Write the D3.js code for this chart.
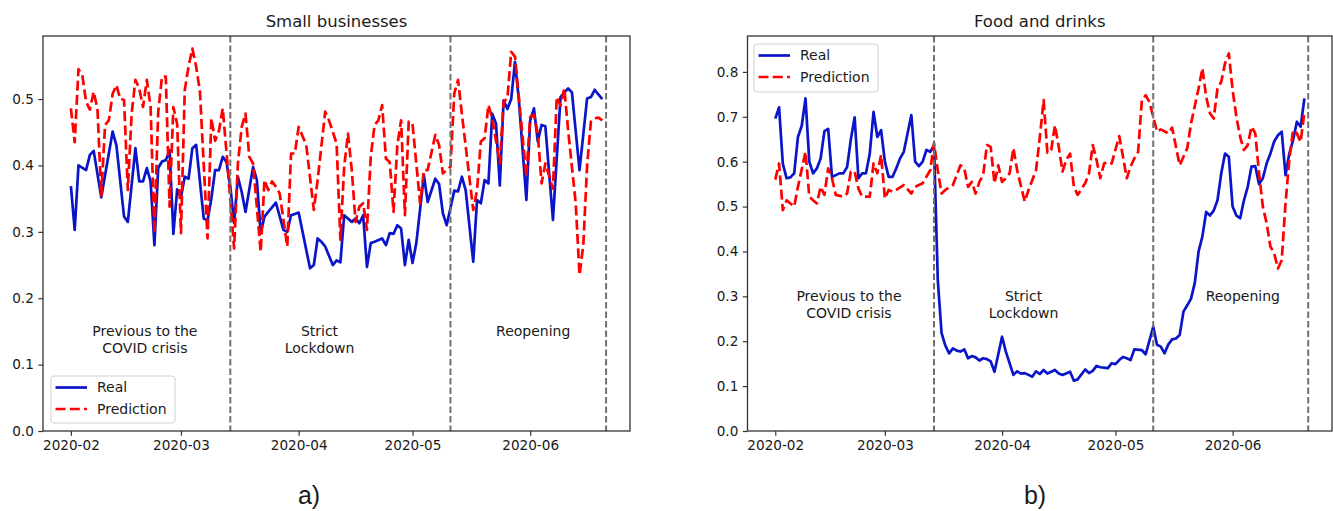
<!DOCTYPE html>
<html>
<head>
<meta charset="utf-8">
<script src="https://cdn.jsdelivr.net/npm/d3@7"></script>
<style>
  html, body { margin: 0; padding: 0; background: #fff; }
  svg { display: block; }
  text { font-family: "DejaVu Sans", sans-serif; fill: #1a1a1a; }
</style>
</head>
<body>
<svg id="chart" width="1333" height="511"></svg>
<script>
// ---- data -------------------------------------------------------------
// Daily series start on this date; each point is [days since start, value].
const startDate = "2020-02-01";

const titles = ["Small businesses", "Food and drinks"];
const panelLetters = ["a)", "b)"];
const seriesNames = ["Real", "Prediction"];
const monthTicks = ["2020-02", "2020-03", "2020-04", "2020-05", "2020-06"];
const phaseBoundaries = ["2020-03-14", "2020-05-11", "2020-06-21"];
const phaseLabels = [["Previous to the", "COVID crisis"], ["Strict", "Lockdown"], ["Reopening"]];
const smallPhaseLabelDays = [19.5, 65.5, 121.8];
const foodPhaseLabelDays = [19.5, 65.7, 123.7];
const smallYTicks = [0.0, 0.1, 0.2, 0.3, 0.4, 0.5];
const foodYTicks = [0.0, 0.1, 0.2, 0.3, 0.4, 0.5, 0.6, 0.7, 0.8];

const smallReal = [
  [0,0.369],[1,0.303],[2,0.40],[4,0.393],[5,0.416],[6,0.422],[8,0.352],[11,0.451],[12,0.43],
  [14,0.323],[15,0.315],[17,0.426],[18,0.376],[19,0.376],[20,0.396],[21,0.376],[22,0.28],
  [23,0.396],[24,0.406],[25,0.408],[26,0.423],[27,0.297],[28,0.364],[29,0.353],[30,0.383],
  [31,0.38],[32,0.426],[33,0.431],[35,0.32],[36,0.317],[37,0.35],[38,0.393],[39,0.393],
  [40,0.413],[41,0.405],[42,0.368],[43,0.313],[44,0.383],[45,0.36],[46,0.33],[48,0.398],
  [49,0.378],[50,0.298],[51,0.323],[52,0.33],[54,0.344],[56,0.303],[57,0.30],[58,0.325],
  [59,0.327],[60,0.329],[63,0.245],[64,0.25],[65,0.29],[66,0.285],[67,0.278],[69,0.25],
  [70,0.257],[71,0.254],[72,0.325],[73,0.32],[74,0.315],[75,0.32],[76,0.313],[77,0.325],
  [78,0.247],[79,0.283],[80,0.285],[82,0.29],[83,0.28],[84,0.298],[85,0.297],[86,0.31],
  [87,0.305],[88,0.25],[89,0.288],[90,0.253],[91,0.283],[93,0.385],[94,0.345],[96,0.38],
  [97,0.372],[98,0.328],[99,0.31],[101,0.362],[102,0.361],[103,0.383],[104,0.363],
  [106,0.255],[107,0.348],[108,0.343],[109,0.378],[110,0.373],[111,0.478],[112,0.463],
  [113,0.37],[114,0.498],[115,0.485],[116,0.50],[117,0.556],[118,0.50],[120,0.348],
  [121,0.468],[122,0.486],[123,0.436],[124,0.461],[125,0.459],[127,0.318],[129,0.503],
  [130,0.51],[131,0.516],[132,0.51],[134,0.393],[136,0.501],[137,0.503],[138,0.514],[140,0.50]
];

const smallPred = [
  [0,0.486],[1,0.435],[2,0.545],[3,0.536],[4,0.496],[5,0.484],[6,0.511],[7,0.485],[8,0.355],
  [9,0.461],[10,0.468],[11,0.508],[12,0.521],[13,0.50],[14,0.499],[15,0.363],[16,0.478],
  [17,0.529],[18,0.516],[19,0.488],[20,0.529],[21,0.488],[22,0.298],[23,0.48],[24,0.534],
  [25,0.534],[26,0.338],[27,0.488],[28,0.462],[29,0.298],[30,0.514],[31,0.549],[32,0.576],
  [33,0.549],[34,0.511],[36,0.29],[37,0.471],[38,0.437],[39,0.452],[40,0.486],[41,0.42],
  [43,0.275],[44,0.403],[45,0.458],[46,0.478],[47,0.413],[48,0.403],[50,0.27],[51,0.378],
  [52,0.363],[53,0.376],[54,0.368],[55,0.358],[57,0.278],[58,0.418],[59,0.418],[60,0.458],
  [62,0.431],[64,0.333],[65,0.378],[67,0.481],[68,0.468],[70,0.433],[71,0.288],[72,0.398],
  [73,0.448],[74,0.393],[75,0.315],[76,0.338],[77,0.343],[78,0.303],[79,0.413],[80,0.461],
  [81,0.468],[82,0.491],[83,0.41],[84,0.405],[85,0.33],[86,0.43],[87,0.468],[88,0.325],
  [89,0.466],[90,0.463],[92,0.343],[93,0.393],[94,0.393],[96,0.446],[97,0.431],[98,0.388],
  [100,0.398],[101,0.508],[102,0.529],[103,0.478],[106,0.333],[107,0.363],[108,0.436],
  [109,0.441],[110,0.491],[111,0.471],[113,0.403],[114,0.496],[115,0.501],[116,0.571],
  [117,0.564],[120,0.383],[121,0.473],[122,0.476],[123,0.448],[124,0.373],[125,0.403],
  [127,0.365],[128,0.503],[129,0.49],[130,0.516],[131,0.453],[133,0.343],[134,0.235],
  [135,0.28],[136,0.40],[137,0.466],[138,0.471],[139,0.472],[140,0.468]
];

const foodReal = [
  [0,0.696],[1,0.721],[2,0.595],[3,0.563],[4,0.565],[5,0.574],[6,0.655],[7,0.68],[8,0.741],
  [9,0.60],[10,0.574],[11,0.585],[12,0.607],[13,0.668],[14,0.673],[15,0.566],[16,0.57],
  [17,0.574],[18,0.574],[19,0.588],[20,0.65],[21,0.699],[22,0.563],[23,0.574],[24,0.574],
  [25,0.618],[26,0.711],[27,0.655],[28,0.67],[29,0.60],[30,0.566],[31,0.566],[32,0.585],
  [33,0.607],[34,0.622],[36,0.704],[37,0.60],[38,0.59],[39,0.60],[40,0.626],[41,0.622],
  [42,0.637],[43,0.336],[44,0.218],[45,0.19],[46,0.173],[47,0.184],[48,0.179],[49,0.177],
  [50,0.182],[51,0.162],[52,0.167],[53,0.164],[54,0.157],[55,0.162],[56,0.16],[57,0.155],
  [58,0.132],[60,0.21],[61,0.177],[63,0.125],[64,0.133],[65,0.128],[66,0.129],[67,0.125],
  [68,0.121],[69,0.133],[70,0.127],[71,0.136],[72,0.128],[74,0.136],[75,0.128],[76,0.125],
  [78,0.132],[79,0.112],[80,0.115],[82,0.137],[83,0.129],[84,0.134],[85,0.145],[86,0.142],
  [88,0.14],[89,0.151],[90,0.149],[91,0.158],[92,0.165],[93,0.162],[94,0.158],[95,0.182],
  [97,0.18],[98,0.171],[100,0.232],[101,0.192],[102,0.188],[103,0.173],[104,0.193],
  [105,0.204],[106,0.206],[107,0.214],[108,0.266],[109,0.28],[110,0.295],[111,0.33],
  [112,0.40],[113,0.433],[114,0.488],[115,0.48],[116,0.491],[117,0.514],[118,0.574],
  [119,0.618],[120,0.611],[121,0.50],[122,0.48],[123,0.474],[124,0.514],[125,0.544],
  [126,0.589],[127,0.59],[128,0.55],[129,0.563],[130,0.596],[131,0.618],[132,0.645],
  [133,0.659],[134,0.667],[135,0.57],[136,0.618],[137,0.648],[138,0.689],[139,0.678],[140,0.741]
];

const foodPred = [
  [0,0.56],[1,0.596],[2,0.492],[3,0.514],[4,0.507],[5,0.50],[6,0.544],[8,0.622],[9,0.522],
  [10,0.514],[11,0.507],[12,0.544],[13,0.526],[14,0.585],[15,0.563],[16,0.526],[18,0.522],
  [19,0.529],[20,0.578],[21,0.578],[22,0.54],[23,0.522],[25,0.522],[26,0.596],[27,0.574],
  [28,0.615],[29,0.518],[30,0.537],[31,0.533],[32,0.537],[34,0.548],[36,0.529],[37,0.544],
  [39,0.552],[41,0.581],[42,0.641],[43,0.58],[44,0.529],[45,0.537],[47,0.548],[49,0.592],
  [50,0.585],[51,0.544],[52,0.555],[53,0.529],[54,0.555],[55,0.57],[56,0.637],[57,0.633],
  [58,0.552],[59,0.592],[60,0.555],[61,0.563],[62,0.574],[63,0.63],[64,0.581],[66,0.511],
  [67,0.537],[69,0.581],[70,0.655],[71,0.737],[72,0.62],[73,0.626],[74,0.681],[75,0.633],
  [76,0.578],[77,0.604],[78,0.618],[79,0.544],[80,0.526],[82,0.552],[83,0.574],[84,0.637],
  [85,0.604],[86,0.563],[87,0.596],[88,0.60],[89,0.596],[91,0.657],[92,0.611],[93,0.563],
  [94,0.589],[95,0.607],[96,0.622],[97,0.737],[98,0.748],[99,0.733],[100,0.70],[101,0.667],
  [102,0.672],[104,0.663],[105,0.676],[107,0.592],[108,0.611],[109,0.63],[110,0.685],
  [112,0.763],[113,0.808],[114,0.745],[115,0.708],[116,0.696],[117,0.763],[118,0.778],
  [119,0.819],[120,0.841],[121,0.76],[122,0.70],[123,0.655],[124,0.626],[125,0.637],
  [126,0.678],[127,0.663],[128,0.574],[129,0.50],[130,0.463],[131,0.411],[132,0.396],
  [133,0.362],[134,0.381],[135,0.507],[136,0.604],[137,0.67],[138,0.663],[139,0.644],[140,0.711]
];

// ---- layout & style ---------------------------------------------------
const COLORS = { real: "#0a14c8", pred: "#ff0000", phase: "#707070", axis: "#333" };
const parseDay = d3.utcParse("%Y-%m-%d");
const parseMonth = d3.utcParse("%Y-%m");
const t0 = parseDay(startDate);
const dayToDate = d => new Date(t0.getTime() + d * 864e5);
const xDomainDays = [-7.35, 147.3];

const panels = [
  {
    title: titles[0], letter: panelLetters[0], real: smallReal, pred: smallPred,
    yMax: 0.595, yTicks: smallYTicks, labelDays: smallPhaseLabelDays, labelY: 0.15,
    box: { x0: 43, x1: 630, y0: 36, y1: 431 },
    legend: { x: 51, y: 376, w: 124, h: 47 },
    letterPos: { x: 309, y: 504 }
  },
  {
    title: titles[1], letter: panelLetters[1], real: foodReal, pred: foodPred,
    yMax: 0.88, yTicks: foodYTicks, labelDays: foodPhaseLabelDays, labelY: 0.30,
    box: { x0: 747.5, x1: 1332, y0: 36, y1: 431 },
    legend: { x: 754, y: 44, w: 124, h: 48 },
    letterPos: { x: 1035, y: 504 }
  }
];

const svg = d3.select("#chart");
svg.append("rect").attr("width", 1333).attr("height", 511).attr("fill", "#fff");

panels.forEach(p => {
  const { x0, x1, y0, y1 } = p.box;
  const x = d3.scaleUtc().domain(xDomainDays.map(dayToDate)).range([x0, x1]);
  const y = d3.scaleLinear().domain([0, p.yMax]).range([y1, y0]);
  const g = svg.append("g");

  // y axis
  const yAxis = d3.axisLeft(y).tickValues(p.yTicks).tickFormat(d3.format(".1f"))
    .tickSize(4.7).tickPadding(4.5);
  const ya = g.append("g").attr("transform", `translate(${x0},0)`).call(yAxis);
  // x axis
  const xAxis = d3.axisBottom(x).tickValues(monthTicks.map(parseMonth))
    .tickFormat(d3.utcFormat("%Y-%m")).tickSize(4.7).tickPadding(4.5);
  const xa = g.append("g").attr("transform", `translate(0,${y1})`).call(xAxis);
  [ya, xa].forEach(a => {
    a.select(".domain").remove();
    a.selectAll(".tick line").attr("stroke", COLORS.axis).attr("stroke-width", 1.2);
    a.selectAll(".tick text").style("font-family", "DejaVu Sans").style("font-size", "13.6px")
      .attr("fill", "#1a1a1a");
  });

  const line = d3.line()
    .x(d => x(dayToDate(d[0])))
    .y(d => y(d[1]));

  g.append("path").datum(p.real).attr("d", line)
    .attr("fill", "none").attr("stroke", COLORS.real).attr("stroke-width", 2.7)
    .attr("stroke-linejoin", "round");
  g.append("path").datum(p.pred).attr("d", line)
    .attr("fill", "none").attr("stroke", COLORS.pred).attr("stroke-width", 2.7)
    .attr("stroke-dasharray", "10,4.3").attr("stroke-linejoin", "round");

  // phase boundaries
  g.selectAll(".phase").data(phaseBoundaries).join("line")
    .attr("x1", d => x(parseDay(d))).attr("x2", d => x(parseDay(d)))
    .attr("y1", y0).attr("y2", y1)
    .attr("stroke", COLORS.phase).attr("stroke-width", 2)
    .attr("stroke-dasharray", "6.5,3");

  // phase labels
  phaseLabels.forEach((lines, i) => {
    const t = g.append("text")
      .attr("x", x(dayToDate(p.labelDays[i])))
      .attr("y", y(p.labelY))
      .attr("text-anchor", "middle")
      .style("font-size", "14px");
    lines.forEach((s, j) => {
      t.append("tspan").attr("x", x(dayToDate(p.labelDays[i])))
        .attr("dy", j === 0 ? "0.35em" : "1.2em").text(s);
    });
  });

  // frame
  g.append("rect").attr("x", x0).attr("y", y0).attr("width", x1 - x0).attr("height", y1 - y0)
    .attr("fill", "none").attr("stroke", COLORS.axis).attr("stroke-width", 1.3);

  // title
  g.append("text").attr("x", (x0 + x1) / 2).attr("y", 26.5).attr("text-anchor", "middle")
    .style("font-size", "16.5px").text(p.title);

  // legend
  const L = p.legend;
  const lg = g.append("g").attr("transform", `translate(${L.x},${L.y})`);
  lg.append("rect").attr("width", L.w).attr("height", L.h).attr("rx", 3)
    .attr("fill", "#fff").attr("fill-opacity", 0.8).attr("stroke", "#d0d0d0").attr("stroke-width", 1);
  const legendItems = [
    { name: seriesNames[0], color: COLORS.real, dash: null },
    { name: seriesNames[1], color: COLORS.pred, dash: "10,4.3" }
  ];
  legendItems.forEach((it, i) => {
    const cy = 11.5 + i * 21.5;
    lg.append("line").attr("x1", 4.5).attr("x2", 36).attr("y1", cy).attr("y2", cy)
      .attr("stroke", it.color).attr("stroke-width", 2.7)
      .attr("stroke-dasharray", it.dash);
    lg.append("text").attr("x", 46).attr("y", cy).attr("dy", "0.35em")
      .style("font-size", "14px").text(it.name);
  });

  // panel letter
  svg.append("text").attr("x", p.letterPos.x).attr("y", p.letterPos.y)
    .attr("text-anchor", "middle")
    .style("font-family", "'Liberation Sans', Arial, sans-serif")
    .style("font-size", "25px").attr("fill", "#000").text(p.letter);
});
</script>
</body>
</html>
